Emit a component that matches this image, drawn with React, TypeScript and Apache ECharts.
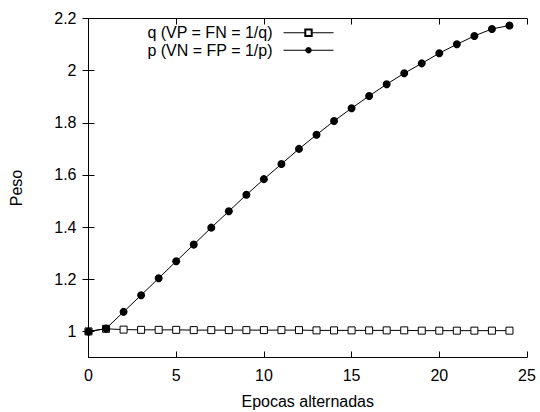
import React, { useEffect, useRef } from "react";
import * as echarts from "echarts";

const epochs = [0,1,2,3,4,5,6,7,8,9,10,11,12,13,14,15,16,17,18,19,20,21,22,23,24];
const qValues = [1.0,1.01,1.007,1.006,1.006,1.006,1.005,1.005,1.005,1.005,1.005,1.005,1.005,1.004,1.004,1.004,1.004,1.004,1.004,1.003,1.003,1.003,1.003,1.003,1.003];
const pValues = [1.0,1.011,1.075,1.139,1.204,1.269,1.333,1.398,1.461,1.524,1.584,1.642,1.700,1.754,1.807,1.856,1.903,1.948,1.990,2.028,2.067,2.101,2.133,2.160,2.173];
const yTicks = [1, 1.2, 1.4, 1.6, 1.8, 2, 2.2];
const qName = "q (VP = FN = 1/q)";
const pName = "p (VN = FP = 1/p)";
const xTitle = "Epocas alternadas";
const yTitle = "Peso";

const FONT = "Liberation Sans";
const FS = 16;

export default function App() {
  const ref = useRef<HTMLDivElement>(null);
  useEffect(() => {
    if (!ref.current) return;
    document.body.style.margin = "0";
    document.body.style.overflow = "hidden";
    const chart = echarts.init(ref.current, undefined, { renderer: "svg" });
    const axisCommon = {
      axisLine: { show: true, lineStyle: { color: "#000", width: 1 } },
      axisTick: { show: true, inside: true, length: 6, lineStyle: { color: "#000", width: 1 } },
      splitLine: { show: false },
    };
    chart.setOption({
      animation: false,
      backgroundColor: "#fff",
      textStyle: { fontFamily: FONT },
      grid: { left: 88.5, right: 13, top: 18.5, bottom: 54.5, containLabel: false, outerBoundsMode: "none" },
      legend: {
        orient: "vertical",
        right: 201,
        top: 19,
        align: "right",
        itemWidth: 50,
        itemHeight: 8,
        itemGap: 0,
        lineStyle: { width: 1 },
        textStyle: { fontFamily: FONT, fontSize: FS, lineHeight: 17.5, color: "#000", padding: [0, 6, 0, 0] },
        data: [qName, pName],
      },
      xAxis: [
        {
          type: "value", min: 0, max: 25, interval: 5, position: "bottom",
          name: xTitle, nameLocation: "middle", nameGap: 36, nameMoveOverlap: false,
          nameTextStyle: { fontFamily: FONT, fontSize: FS, color: "#000", verticalAlign: "top" },
          axisLabel: { fontFamily: FONT, fontSize: FS, color: "#000", margin: 10 },
          ...axisCommon,
        },
        {
          type: "value", min: 0, max: 25, interval: 5, position: "top",
          axisLabel: { show: false },
          ...axisCommon,
        },
      ],
      yAxis: [
        {
          type: "value", min: 0.9, max: 2.2, position: "left",
          name: yTitle, nameLocation: "middle", nameGap: 64, nameRotate: 90,
          nameTextStyle: { fontFamily: FONT, fontSize: FS, color: "#000" },
          axisLabel: {
            fontFamily: FONT, fontSize: FS, color: "#000", margin: 12,
            customValues: yTicks,
            formatter: (v: number) => String(Math.round(v * 10) / 10),
          },
          axisTick: { show: true, inside: true, length: 6, lineStyle: { color: "#000" }, customValues: yTicks },
          axisLine: { show: true, lineStyle: { color: "#000", width: 1 } },
          splitLine: { show: false },
        },
        {
          type: "value", min: 0.9, max: 2.2, position: "right",
          axisLabel: { show: false },
          axisTick: { show: true, inside: true, length: 6, lineStyle: { color: "#000" }, customValues: yTicks },
          axisLine: { show: true, lineStyle: { color: "#000", width: 1 } },
          splitLine: { show: false },
        },
      ],
      series: [
        {
          name: qName,
          type: "line",
          data: epochs.map((e, i) => [e, qValues[i]]),
          symbol: "rect",
          symbolSize: 7,
          showAllSymbol: true,
          lineStyle: { color: "#000", width: 1 },
          itemStyle: { color: "#fff", borderColor: "#000", borderWidth: 1 },
        },
        {
          name: pName,
          type: "line",
          data: epochs.map((e, i) => [e, pValues[i]]),
          symbol: "circle",
          symbolSize: 8,
          showAllSymbol: true,
          lineStyle: { color: "#000", width: 1 },
          itemStyle: { color: "#000", borderColor: "#000", borderWidth: 0 },
        },
      ],
    });
    return () => chart.dispose();
  }, []);
  return <div ref={ref} style={{ width: 540, height: 412 }} />;
}
